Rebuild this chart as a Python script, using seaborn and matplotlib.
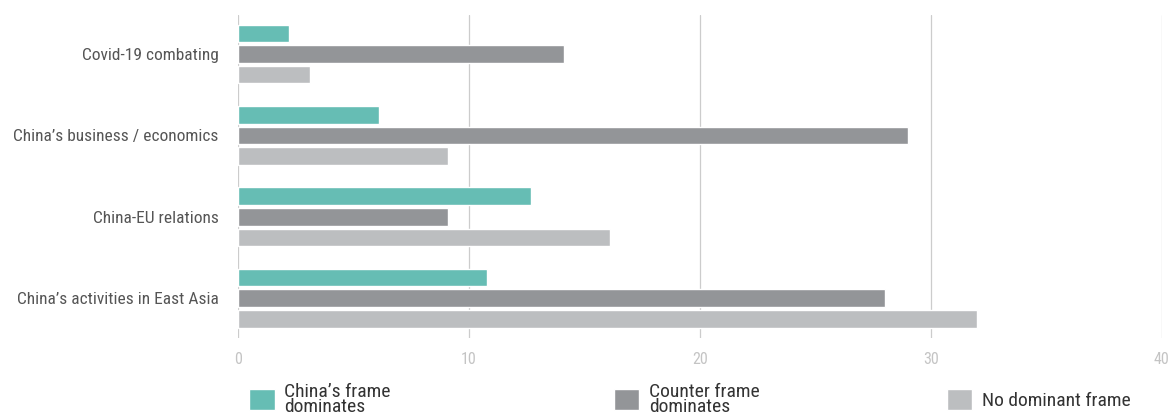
import matplotlib
matplotlib.use("Agg")
import matplotlib.pyplot as plt
from matplotlib import font_manager
import seaborn as sns
import pandas as pd

# data
topics = ["Covid-19 combating", "China’s business / economics",
          "China-EU relations", "China’s activities in East Asia"]
frames = ["China’s frame\ndominates", "Counter frame\ndominates", "No dominant frame"]
china_frame = [2.2, 6.1, 12.7, 10.8]
counter_frame = [14.1, 29.0, 9.1, 28.0]
no_frame = [3.1, 9.1, 16.1, 32.0]
x_ticks = [0, 10, 20, 30, 40]

colors = ["#66bdb4", "#939598", "#bcbec0"]

rows = []
for vals, fr in zip([china_frame, counter_frame, no_frame], frames):
    for t, v in zip(topics, vals):
        rows.append({"topic": t, "frame": fr, "value": v})
df = pd.DataFrame(rows)

sns.set_style("white")

# pick a narrow font if one is there, otherwise shrink Roboto
installed = {f.name for f in font_manager.fontManager.ttflist}
narrow = [n for n in ["Roboto Condensed", "Liberation Sans Narrow",
                      "Open Sans Condensed", "Noto Sans Condensed"] if n in installed]
if narrow:
    plt.rcParams["font.family"] = [narrow[0], "DejaVu Sans"]
    label_size, legend_size = 12.5, 14
else:
    plt.rcParams["font.family"] = ["Roboto", "DejaVu Sans"]
    label_size, legend_size = 10.5, 12

fig = plt.figure(figsize=(11.76, 4.16), dpi=100)
ax = fig.add_axes([0.2024, 0.1875, 0.7856, 0.7765])

sns.barplot(data=df, x="value", y="topic", hue="frame", order=topics,
            hue_order=frames, palette=colors, orient="h",
            width=0.76, gap=0.15, saturation=1, legend=False, ax=ax)

ax.set_xlim(0, 40)
ax.set_ylim(3.49, -0.48)
ax.set_xticks(x_ticks)
ax.set_xticklabels([str(v) for v in x_ticks])
ax.grid(axis="x", color="#cccccc", linewidth=0.9)
ax.grid(axis="y", visible=False)
ax.set_axisbelow(True)
for s in ax.spines.values():
    s.set_visible(False)
ax.set_xlabel("")
ax.set_ylabel("")
ax.tick_params(axis="x", length=0, pad=10, labelsize=11.5, labelcolor="#c4c4c4")
ax.tick_params(axis="y", length=0, pad=14, labelsize=label_size, labelcolor="#555555")

# three separate legend entries spread along the bottom
handles = [ax.containers[i][0] for i in range(3)]
anchors = [0.212, 0.522, 0.805]
for h, lab, xa in zip(handles, frames, anchors):
    lg = fig.legend([h], [lab], loc="center left", bbox_to_anchor=(xa, 0.04),
                    frameon=False, fontsize=legend_size, handlelength=1.3,
                    handleheight=1.3, handletextpad=0.5, borderpad=0, borderaxespad=0)
    for t in lg.get_texts():
        t.set_color("#333333")
        t.set_linespacing(0.8)

fig.savefig("out.png", dpi=100)
